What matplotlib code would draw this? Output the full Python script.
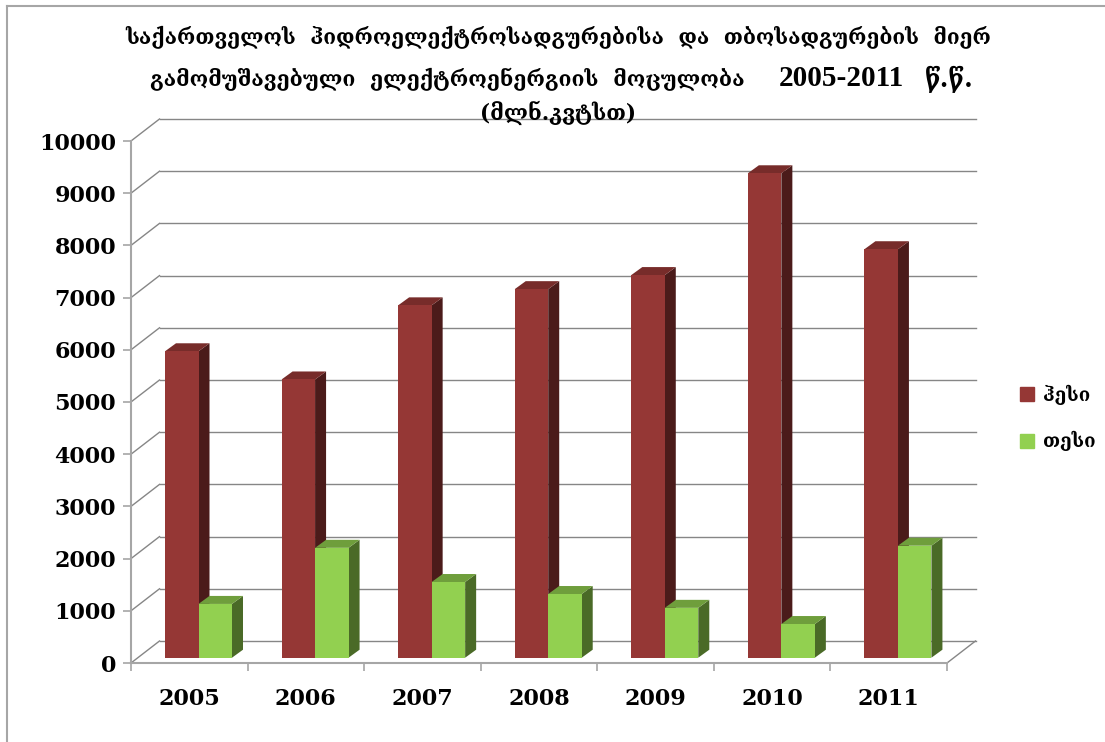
import matplotlib
matplotlib.use('Agg')
import matplotlib.pyplot as plt
from matplotlib.patches import Polygon
from matplotlib.lines import Line2D

years = ['2005', '2006', '2007', '2008', '2009', '2010', '2011']
hydro = [5870, 5330, 6750, 7060, 7330, 9280, 7825]
thermal = [1030, 2105, 1450, 1220, 955, 645, 2145]
y_ticks = [0, 1000, 2000, 3000, 4000, 5000, 6000, 7000, 8000, 9000, 10000]
series_names = ['ჰესი', 'თესი']
title_1 = 'საქართველოს  ჰიდროელექტროსადგურებისა  და  თბოსადგურების  მიერ'
title_2 = 'გამომუშავებული  ელექტროენერგიის  მოცულობა'
title_2b = '2005-2011'
title_2c = 'წ.წ.'
title_3 = '(მლნ.კვტსთ)'

W, H = 1105, 742
GRID = '#868686'
geo = ['DejaVu Serif', 'DejaVu Sans']

fig = plt.figure(figsize=(W / 100, H / 100), dpi=100, facecolor='white')
# axes = front plane of the fake 3d box
ax = fig.add_axes([131 / W, 1 - 663 / H, 816 / W, 522 / H])
ax.set_xlim(0, 7)
ax.set_ylim(0, 10000)
ax.patch.set_visible(False)
for s in ax.spines.values():
    s.set_visible(False)

# pixel sizes to data units
px_x = 7 / 816
px_y = 10000 / 522
depth_x, depth_y = 28.5 * px_x, 22 * px_y
bar_dx, bar_dy = 11 * px_x, 8 * px_y
base_y = 5.3 * px_y
bar_w = 33.5 * px_x
left_pad = 34 * px_x

# back wall grid and floor
for v in y_ticks:
    ax.plot([0, depth_x], [v, v + depth_y], color=GRID, lw=1, clip_on=False, zorder=1)
    ax.plot([depth_x, 7 + depth_x], [v + depth_y, v + depth_y], color=GRID, lw=1, clip_on=False, zorder=1)
ax.plot([7, 7 + depth_x], [0, depth_y], color=GRID, lw=1, clip_on=False, zorder=1)
ax.plot([0, 0], [0, 10000], color='#a6a6a6', lw=1.5, clip_on=False, zorder=1)
ax.plot([0, 7], [0, 0], color='#a6a6a6', lw=1.5, clip_on=False, zorder=1)


def draw_bars(lefts, values, front, side, top, z):
    bars = ax.bar(lefts, values, width=bar_w, bottom=base_y, align='edge', color=front,
                  edgecolor='none', clip_on=False, zorder=z + 0.2)
    for l, v in zip(lefts, values):
        r = l + bar_w
        t = base_y + v
        ax.add_patch(Polygon([(r, base_y), (r + bar_dx, base_y + bar_dy), (r + bar_dx, t + bar_dy), (r, t)],
                             facecolor=side, edgecolor='none', clip_on=False, zorder=z))
        ax.add_patch(Polygon([(l, t), (l + bar_dx, t + bar_dy), (r + bar_dx, t + bar_dy), (r, t)],
                             facecolor=top, edgecolor='none', clip_on=False, zorder=z))
    return bars


positions = list(range(len(years)))
draw_bars([p + left_pad for p in positions], hydro, '#953735', '#4b1b1a', '#772c2a', 3)
draw_bars([p + left_pad + bar_w for p in positions], thermal, '#92d050', '#4a6a27', '#6f9e3c', 4)

ax.set_yticks(y_ticks)
ax.set_xticks(range(8))
ax.set_xticklabels([])
ax.set_xticks([p + 0.5 for p in positions], labels=years, minor=True)
ax.tick_params(axis='y', length=5.8, width=1.2, color='#a6a6a6', pad=5, labelsize=16)
ax.tick_params(axis='x', which='major', length=5.8, width=1.2, color='#a6a6a6')
ax.tick_params(axis='x', which='minor', length=0, pad=18, labelsize=16)
for lab in ax.get_yticklabels() + ax.get_xticklabels(minor=True):
    lab.set_family('DejaVu Serif')
    lab.set_fontweight('bold')
    lab.set_color('black')


def px_text(x, y, s, size, family=geo, ha='center'):
    fig.text(x / W, 1 - y / H, s, fontsize=size, family=family, fontweight='bold',
             ha=ha, va='center', color='black')


px_text(558, 37, title_1, 15)
px_text(447, 79, title_2, 15.2)
px_text(841, 78, title_2b, 21, family='Liberation Serif')
px_text(949, 79, title_2c, 18)
px_text(558, 113, title_3, 15.5)

handles = [Line2D([], [], marker='s', ls='none', color='#953735', markersize=10.5),
           Line2D([], [], marker='s', ls='none', color='#92d050', markersize=10.5)]
fig.legend(handles, series_names, loc='center left', bbox_to_anchor=(1010 / W, 1 - 418 / H),
           frameon=False, handlelength=0.85, handletextpad=0.4, labelspacing=1.4, borderpad=0,
           prop={'family': geo, 'weight': 'bold', 'size': 13.5})

# outer chart border, left and top edge
fig.add_artist(Line2D([7 / W, 7 / W], [0, 1 - 5.5 / H], color='#a6a6a6', lw=1.5))
fig.add_artist(Line2D([7 / W, 1], [1 - 5.5 / H, 1 - 5.5 / H], color='#a6a6a6', lw=1.5))

fig.savefig('out.png', dpi=100)
